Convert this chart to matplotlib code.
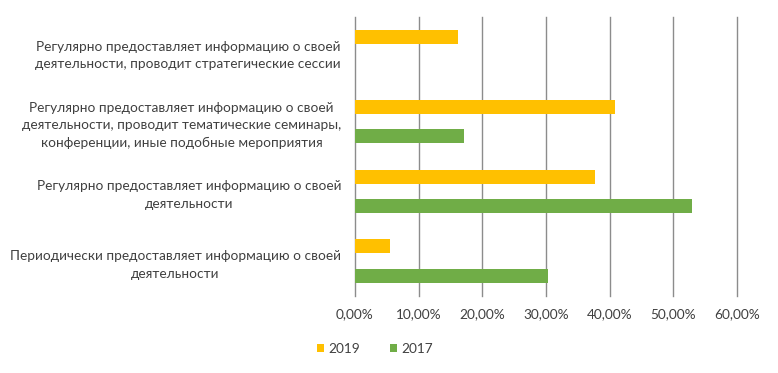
import matplotlib
matplotlib.use("Agg")
import matplotlib.pyplot as plt
import numpy as np
from matplotlib.patches import Patch

categories = [
    "Регулярно предоставляет информацию о своей\nдеятельности, проводит стратегические сессии",
    "Регулярно предоставляет информацию о своей\nдеятельности, проводит тематические семинары,\nконференции, иные подобные мероприятия",
    "Регулярно предоставляет информацию о своей\nдеятельности",
    "Периодически предоставляет информацию о своей\nдеятельности",
]
values_2019 = [16.1, 40.9, 37.7, 5.5]
values_2017 = [0.0, 17.1, 52.9, 30.3]
xticks = [0, 10, 20, 30, 40, 50, 60]
xtick_labels = ["0,00%", "10,00%", "20,00%", "30,00%", "40,00%", "50,00%", "60,00%"]

c2019 = "#FFC000"
c2017 = "#70AD47"

plt.rcParams['font.family'] = ['Lato', 'DejaVu Sans']

fig = plt.figure(figsize=(7.78, 3.73), dpi=100)
ax = fig.add_axes([355/778, 1-296/373, (737-355)/778, (296-17)/373])

y = np.arange(len(categories))
off = 0.212
h = 0.2
ax.barh(y - off, values_2019, height=h, color=c2019, zorder=3)
ax.barh(y + off, values_2017, height=h, color=c2017, zorder=3)

fs = 9.8
ax.set_ylim(len(categories) - 0.5, -0.5)
ax.set_xlim(0, 60)
ax.set_xticks(xticks)
ax.set_xticklabels(xtick_labels, fontsize=fs, color="#404040")
ax.set_yticks(y)
ax.set_yticklabels(categories, fontsize=fs, color="#404040")
for t in ax.get_yticklabels():
    t.set_multialignment('center')
    t.set_linespacing(1.55)
ax.tick_params(axis='y', length=0, pad=10)
ax.tick_params(axis='x', length=0, pad=9)

ax.grid(axis='x', color="#8c8c8c", linewidth=1.0, zorder=0)
for gl in ax.get_xgridlines():
    gl.set_clip_on(False)
for s in ['top', 'right', 'bottom', 'left']:
    ax.spines[s].set_visible(False)

handles = [Patch(facecolor=c2019, label="2019"), Patch(facecolor=c2017, label="2017")]
leg = fig.legend(handles=handles, loc='center', bbox_to_anchor=(375/778, 1-349/373), ncol=2,
                 frameon=False, fontsize=fs, handlelength=0.5, handleheight=0.5,
                 handletextpad=0.35, columnspacing=2.2)
for t in leg.get_texts():
    t.set_color("#404040")

fig.savefig("out.png", dpi=100)
